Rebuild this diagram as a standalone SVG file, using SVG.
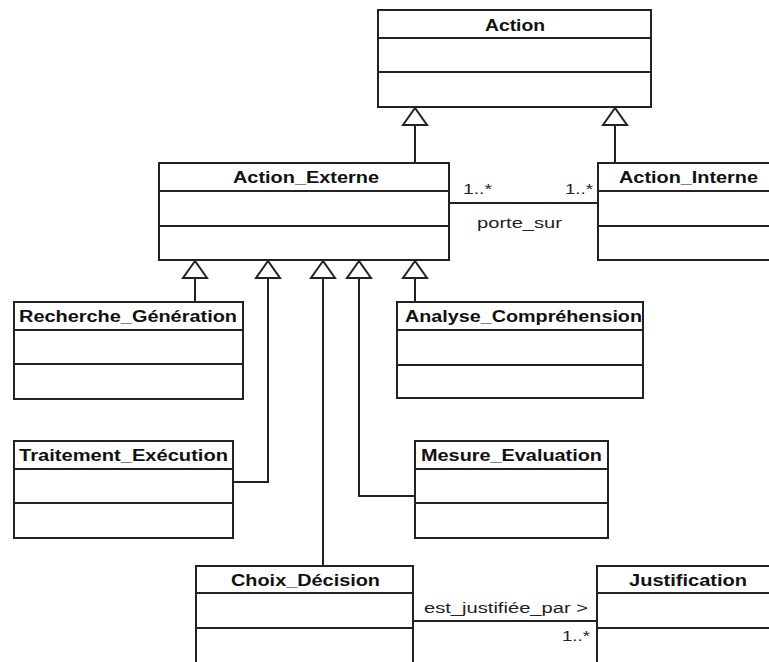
<svg xmlns="http://www.w3.org/2000/svg" width="769" height="662" viewBox="0 0 769 662">
<style>
.box{fill:#fff;stroke:#222;stroke-width:2}
.sep{stroke:#222;stroke-width:2;fill:none}
.cn{stroke:#222;stroke-width:2;fill:none}
.tri{fill:#fff;stroke:#222;stroke-width:2;stroke-linejoin:miter}
.t{font-family:"Liberation Sans",Arial,sans-serif;font-size:16px;font-weight:bold;fill:#111}
.l{font-family:"Liberation Sans",Arial,sans-serif;font-size:15.5px;fill:#222}
</style>
<rect width="769" height="662" fill="#fff"/>
<g id="connectors">
  <path class="cn" d="M415,163 V125"/>
  <path class="cn" d="M615,163 V125"/>
  <path class="cn" d="M195,302 V278"/>
  <path class="cn" d="M415,302 V278"/>
  <path class="cn" d="M233,482 H268 V278"/>
  <path class="cn" d="M323,566 V278"/>
  <path class="cn" d="M415,496 H359 V278"/>
  <polygon class="tri" points="415,108 403,125 427,125"/>
  <polygon class="tri" points="615,108 603,125 627,125"/>
  <polygon class="tri" points="195,261 183,278 207,278"/>
  <polygon class="tri" points="268,261 256,278 280,278"/>
  <polygon class="tri" points="323,261 311,278 335,278"/>
  <polygon class="tri" points="359,261 347,278 371,278"/>
  <polygon class="tri" points="415,261 403,278 427,278"/>
  <path class="cn" d="M449,203 H598"/>
  <text class="l" x="463" y="194" textLength="29" lengthAdjust="spacingAndGlyphs">1..*</text>
  <text class="l" x="565" y="194" textLength="28" lengthAdjust="spacingAndGlyphs">1..*</text>
  <text class="l" x="477" y="228" textLength="85" lengthAdjust="spacingAndGlyphs">porte_sur</text>
  <path class="cn" d="M413,621 H597"/>
  <text class="l" x="424" y="613" textLength="164" lengthAdjust="spacingAndGlyphs">est_justifiée_par &gt;</text>
  <text class="l" x="562" y="641" textLength="28" lengthAdjust="spacingAndGlyphs">1..*</text>
</g>
<g id="Action">
  <rect class="box" x="378" y="10" width="273" height="97"/>
  <path class="sep" d="M378,38 H651 M378,72 H651"/>
  <text class="t" x="485" y="31" textLength="60" lengthAdjust="spacingAndGlyphs">Action</text>
</g>
<g id="Action_Externe">
  <rect class="box" x="159" y="163" width="290" height="97"/>
  <path class="sep" d="M159,191 H449 M159,226 H449"/>
  <text class="t" x="233" y="183" textLength="146" lengthAdjust="spacingAndGlyphs">Action_Externe</text>
</g>
<g id="Action_Interne">
  <rect class="box" x="598" y="163" width="182" height="97"/>
  <path class="sep" d="M598,191 H780 M598,226 H780"/>
  <text class="t" x="619" y="183" textLength="139" lengthAdjust="spacingAndGlyphs">Action_Interne</text>
</g>
<g id="Recherche_Generation">
  <rect class="box" x="14" y="302" width="229" height="97"/>
  <path class="sep" d="M14,330 H243 M14,364 H243"/>
  <text class="t" x="19" y="322" textLength="218" lengthAdjust="spacingAndGlyphs">Recherche_Génération</text>
</g>
<g id="Analyse_Comprehension">
  <rect class="box" x="397" y="302" width="246" height="96"/>
  <path class="sep" d="M397,330 H643 M397,365 H643"/>
  <text class="t" x="405" y="322" textLength="237" lengthAdjust="spacingAndGlyphs">Analyse_Compréhension</text>
</g>
<g id="Traitement_Execution">
  <rect class="box" x="14" y="441" width="219" height="97"/>
  <path class="sep" d="M14,469 H233 M14,503 H233"/>
  <text class="t" x="19" y="461" textLength="209" lengthAdjust="spacingAndGlyphs">Traitement_Exécution</text>
</g>
<g id="Mesure_Evaluation">
  <rect class="box" x="415" y="441" width="193" height="97"/>
  <path class="sep" d="M415,469 H608 M415,503 H608"/>
  <text class="t" x="421" y="461" textLength="181" lengthAdjust="spacingAndGlyphs">Mesure_Evaluation</text>
</g>
<g id="Choix_Decision">
  <rect class="box" x="196" y="566" width="217" height="110"/>
  <path class="sep" d="M196,593 H413 M196,628 H413"/>
  <text class="t" x="231" y="586" textLength="149" lengthAdjust="spacingAndGlyphs">Choix_Décision</text>
</g>
<g id="Justification">
  <rect class="box" x="597" y="566" width="183" height="110"/>
  <path class="sep" d="M597,593 H780 M597,628 H780"/>
  <text class="t" x="629" y="586" textLength="118" lengthAdjust="spacingAndGlyphs">Justification</text>
</g>
</svg>
